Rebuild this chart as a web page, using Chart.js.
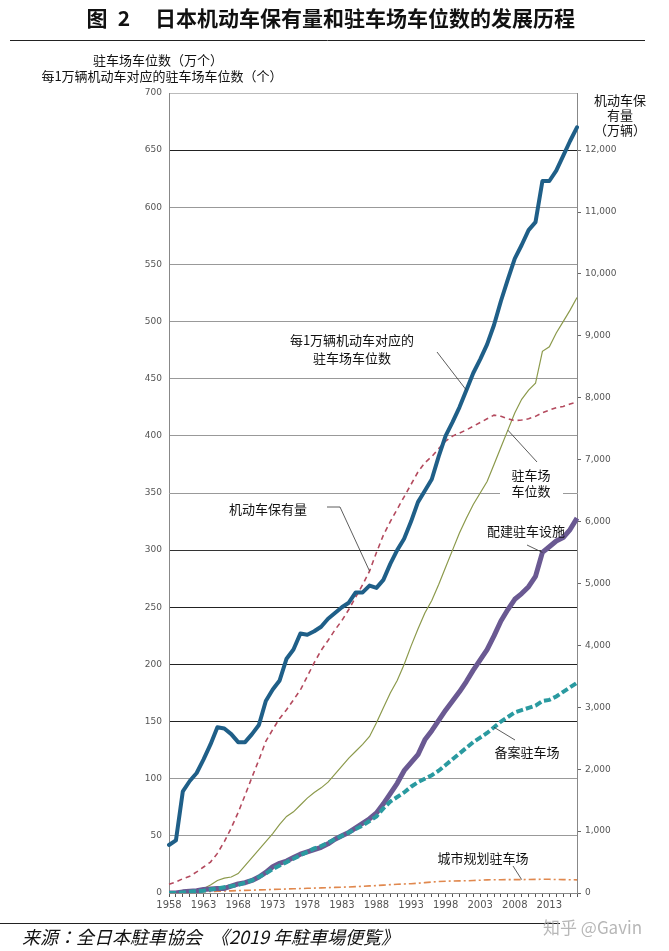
<!DOCTYPE html>
<html>
<head>
<meta charset="utf-8">
<script src="https://cdn.jsdelivr.net/npm/chart.js@4"></script>
<style>
  html, body { margin: 0; padding: 0; background: #fff; }
  #c { position: absolute; left: 0; top: 0; }
</style>
</head>
<body>
<canvas id="c" width="669" height="951"></canvas>
<script>
// categories
const years = ['1958','1959','1960','1961','1962','1963','1964','1965','1966','1967',
  '1968','1969','1970','1971','1972','1973','1974','1975','1976','1977',
  '1978','1979','1980','1981','1982','1983','1984','1985','1986','1987',
  '1988','1989','1990','1991','1992','1993','1994','1995','1996','1997',
  '1998','1999','2000','2001','2002','2003','2004','2005','2006','2007',
  '2008','2009','2010','2011','2012','2013','2014','2015','2016','2017'];
const xTickLabels = ['1958','1963','1968','1973','1978','1983','1988','1993','1998','2003','2008','2013'];
const rightTicks = [0,1000,2000,3000,4000,5000,6000,7000,8000,9000,10000,11000,12000];

// 每1万辆机动车对应的驻车场车位数（个）
const perVehicle = [42,46,89,98,105,117,130,145,144,139,
  132,132,139,147,168,178,186,205,213,227,
  226,229,233,240,245,250,254,263,263,269,
  267,274,288,300,310,325,342,352,362,382,
  400,412,425,440,455,467,480,497,518,537,
  555,567,580,587,623,623,632,645,658,670];
// 机动车保有量（万辆）
const vehicles = [140,180,230,270,340,420,500,640,830,1050,
  1300,1580,1870,2150,2450,2640,2820,2960,3120,3280,
  3500,3720,3920,4080,4250,4400,4580,4780,4980,5200,
  5500,5780,6000,6200,6400,6600,6800,6950,7050,7180,
  7300,7380,7430,7480,7540,7600,7660,7720,7700,7660,
  7630,7640,7660,7700,7760,7800,7840,7860,7900,7930];
// 驻车场车位数（万个）
const spaces = [0,0.5,1,1.5,2.5,4,7,11,13,14,
  17,24,31,38,45,52,60,67,71,77,
  83,88,92,97,104,111,118,124,130,137,
  149,162,175,186,200,216,231,245,256,270,
  285,300,315,328,340,350,360,375,390,405,
  420,432,440,446,474,478,490,500,510,521];
// 配建驻车设施
const attached = [0,0,1,1.5,2,3,3.5,4,4,6,
  8,9,11,14,18,23,26,28,31,34,
  36,38,40,43,47,50,53,57,61,65,
  70,78,87,96,107,114,121,134,142,151,
  160,168,176,185,195,204,213,225,238,248,
  257,262,268,277,298,303,308,311,318,328];
// 备案驻车场
const registered = [0,0,0.5,1,1.5,2,3,4,5,6,
  7,9,11,14,17,21,24,27,30,33,
  36,39,41,44,47,50,53,56,59,63,
  67,74,80,84,88,93,97,100,103,107,
  112,117,122,127,132,136,140,145,150,154,
  158,160,162,164,168,169,172,176,180,184];
// 城市规划驻车场
const planned = [0,0.3,0.5,0.7,0.9,1.1,1.3,1.5,1.7,1.9,
  2.1,2.3,2.5,2.7,2.9,3.1,3.3,3.5,3.7,3.9,
  4.1,4.3,4.5,4.7,4.9,5.1,5.3,5.6,5.9,6.2,
  6.5,6.9,7.3,7.7,7.9,8.1,8.6,9.1,9.6,10.0,
  10.3,10.5,10.6,10.7,10.9,11.2,11.5,11.6,11.6,11.7,
  11.7,11.7,11.8,11.9,12.0,12.0,11.8,11.7,11.6,11.5];

const CJK = '"Noto Sans CJK SC", "Noto Sans", sans-serif';
const NUM = '"DejaVu Sans", sans-serif';

// callouts: text lines, text centre, and the point on the series the leader goes to
const callouts = [
  { lines: ['每1万辆机动车对应的', '驻车场车位数'], x: 352, y: 340, lh: 18, from: [437, 352], ds: 0, year: '2001' },
  { lines: ['机动车保有量'], x: 268, y: 509, lh: 18, from: [327, 507], mid: [340, 507], ds: 1, year: '1987' },
  { lines: ['驻车场', '车位数'], x: 531, y: 475, lh: 16, from: [537, 462], ds: 4, year: '2007' },
  { lines: ['配建驻车设施'], x: 526, y: 531, lh: 18, from: [527, 545], ds: 3, year: '2012' },
  { lines: ['备案驻车场'], x: 527, y: 752, lh: 18, from: [515, 740], ds: 2, year: '2005' },
  { lines: ['城市规划驻车场'], x: 483, y: 858, lh: 18, from: [513, 866], ds: 5, year: '2009' }
];

const decor = {
  id: 'decor',
  beforeDatasetsDraw(chart) {
    const c = chart.ctx;
    c.save();
    c.fillStyle = '#fff';
    c.fillRect(500, 466, 63, 34);
    c.restore();
  },
  afterDraw(chart) {
    const c = chart.ctx;
    c.save();
    // title
    c.fillStyle = '#111';
    c.font = 'bold 21px ' + CJK;
    c.textBaseline = 'middle';
    c.textAlign = 'center';
    c.fillText('图', 97, 18);
    c.fillText('2', 124, 18);
    c.textAlign = 'left';
    c.fillText('日本机动车保有量和驻车场车位数的发展历程', 155, 18);
    c.strokeStyle = '#222';
    c.lineWidth = 1;
    c.beginPath(); c.moveTo(10, 40.5); c.lineTo(645, 40.5); c.stroke();

    // axis titles
    c.textAlign = 'center';
    c.font = '13px ' + CJK;
    c.fillText('驻车场车位数（万个）', 158, 60);
    c.fillText('每1万辆机动车对应的驻车场车位数（个）', 162, 76);
    c.fillText('机动车保', 620, 100);
    c.fillText('有量', 620, 115);
    c.fillText('（万辆）', 620, 130);

    // callouts
    const xs = chart.scales.x;
    callouts.forEach(o => {
      const yScale = chart.scales[chart.data.datasets[o.ds].yAxisID];
      const i = years.indexOf(o.year);
      const px = xs.getPixelForValue(i);
      const py = yScale.getPixelForValue(chart.data.datasets[o.ds].data[i]);
      c.strokeStyle = '#333';
      c.lineWidth = 0.8;
      c.beginPath();
      c.moveTo(o.from[0], o.from[1]);
      if (o.mid) c.lineTo(o.mid[0], o.mid[1]);
      c.lineTo(px, py);
      c.stroke();
      c.fillStyle = '#111';
      c.font = '13px ' + CJK;
      o.lines.forEach((t, k) => c.fillText(t, o.x, o.y + k * o.lh));
    });

    // source
    c.strokeStyle = '#222';
    c.lineWidth = 1;
    c.beginPath(); c.moveTo(0, 923.5); c.lineTo(560, 923.5); c.stroke();
    c.textAlign = 'left';
    c.font = 'italic 18px "Noto Sans CJK JP", serif';
    c.fillText('来源：全日本駐車協会　《2019 年駐車場便覧》', 22, 937);
    c.fillStyle = 'rgba(170,170,170,0.85)';
    c.font = '17px ' + CJK;
    c.fillText('知乎 @Gavin', 543, 928);
    c.restore();
  }
};

const leftGridColors = ['#888','#999','#999','#222','#222','#222','#333','#999','#999','#999','#999','#999','#999','#222','#bbb'];

new Chart(document.getElementById('c'), {
  type: 'line',
  data: {
    labels: years,
    datasets: [
      { label: '每1万辆机动车对应的驻车场车位数', data: perVehicle, yAxisID: 'y',
        borderColor: '#1f5f88', borderWidth: 4, borderJoinStyle: 'round', borderCapStyle: 'round' },
      { label: '机动车保有量', data: vehicles, yAxisID: 'y1',
        borderColor: '#b44a5e', borderWidth: 1.6, borderDash: [5, 4] },
      { label: '备案驻车场', data: registered, yAxisID: 'y',
        borderColor: '#2a9aa0', borderWidth: 4, borderDash: [7, 3] },
      { label: '配建驻车设施', data: attached, yAxisID: 'y',
        borderColor: '#6a5992', borderWidth: 5, borderJoinStyle: 'round' },
      { label: '驻车场车位数', data: spaces, yAxisID: 'y',
        borderColor: '#8c9a4c', borderWidth: 1.2 },
      { label: '城市规划驻车场', data: planned, yAxisID: 'y',
        borderColor: '#e0884e', borderWidth: 1.6, borderDash: [7, 3, 2, 3] }
    ]
  },
  options: {
    responsive: false,
    animation: false,
    events: [],
    layout: { padding: { top: 93, bottom: 38, left: 0, right: 0 } },
    elements: { point: { radius: 0 }, line: { tension: 0 } },
    plugins: { legend: { display: false }, tooltip: { enabled: false } },
    scales: {
      x: {
        type: 'category',
        offset: false,
        afterFit: s => { s.height = 20; },
        grid: { drawOnChartArea: false, tickLength: 4, color: '#555' },
        border: { color: '#888' },
        ticks: {
          autoSkip: false, maxRotation: 0, minRotation: 0, padding: 2,
          color: '#555', font: { family: NUM, size: 10 },
          callback: (v, i) => xTickLabels.includes(years[i]) ? years[i] : ''
        }
      },
      y: {
        position: 'left',
        min: 0, max: 700,
        afterFit: s => { s.width = 169; },
        grid: { drawTicks: false, color: leftGridColors, lineWidth: 1 },
        border: { color: '#888' },
        ticks: { stepSize: 50, padding: 7, color: '#555', font: { family: NUM, size: 9 } }
      },
      y1: {
        position: 'right',
        min: 0, max: 12923,
        afterBuildTicks: s => { s.ticks = rightTicks.map(v => ({ value: v })); },
        afterFit: s => { s.width = 92; },
        grid: { drawOnChartArea: false, tickLength: 4, color: '#666' },
        border: { color: '#888' },
        ticks: {
          padding: 4, color: '#555', font: { family: NUM, size: 9 },
          callback: v => v.toLocaleString('en-US')
        }
      }
    }
  },
  plugins: [decor]
});
</script>
</body>
</html>
